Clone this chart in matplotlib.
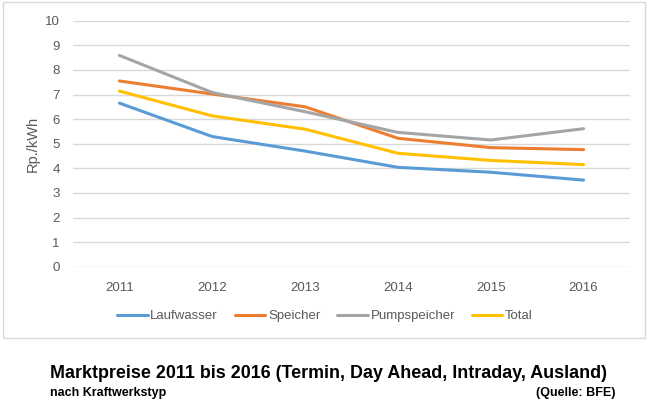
import matplotlib
matplotlib.use("Agg")
import matplotlib.pyplot as plt
from matplotlib.patches import Rectangle

# data
years = ["2011", "2012", "2013", "2014", "2015", "2016"]
laufwasser = [6.65, 5.29, 4.70, 4.04, 3.84, 3.52]
speicher = [7.55, 7.02, 6.50, 5.22, 4.84, 4.76]
pumpspeicher = [8.59, 7.08, 6.30, 5.46, 5.15, 5.61]
total = [7.14, 6.13, 5.59, 4.61, 4.32, 4.15]

series_names = ["Laufwasser", "Speicher", "Pumpspeicher", "Total"]
colors = ["#5B9BD5", "#ED7D31", "#A5A5A5", "#FFC000"]

plt.rcParams["font.family"] = ["Liberation Sans", "DejaVu Sans"]
txt_gray = "#595959"
grid_gray = "#D9D9D9"

fig = plt.figure(figsize=(6.5, 4.2), dpi=100)

# chart frame like the excel chart area
fig.patches.append(Rectangle((3 / 650, 1 - 338 / 420), 642 / 650, 336 / 420,
                             transform=fig.transFigure, fill=False,
                             edgecolor=grid_gray, linewidth=1))

ax = fig.add_axes([73 / 650, 1 - 266.7 / 420, 557 / 650, 246 / 420])
x = range(len(years))
for name, vals, c in zip(series_names, [laufwasser, speicher, pumpspeicher, total], colors):
    ax.plot(x, vals, color=c, lw=2.2, label=name, solid_capstyle="round")

ax.set_xlim(-0.5, len(years) - 0.5)
ax.set_ylim(0, 10)
ax.set_yticks(range(0, 11))
ax.set_xticks(list(x))
ax.set_xticklabels(years)
ax.grid(axis="y", color=grid_gray, lw=1)
ax.set_axisbelow(True)
for s in ax.spines.values():
    s.set_visible(False)
ax.tick_params(length=0, labelsize=9.5, labelcolor=txt_gray)
ax.tick_params(axis="y", pad=9.5)
ax.tick_params(axis="x", pad=11)
ax.set_ylabel("Rp./kWh", color=txt_gray, fontsize=10.5, labelpad=4)

fig.legend(loc="center", bbox_to_anchor=(0.5, 1 - 316 / 420), ncol=4, frameon=False,
           fontsize=9.5, labelcolor=txt_gray, handlelength=2.3, handletextpad=0.2,
           columnspacing=1.3)

fig.text(50 / 650, 1 - 373 / 420, "Marktpreise 2011 bis 2016 (Termin, Day Ahead, Intraday, Ausland)",
         fontsize=12.9, fontweight="bold", ha="left", va="center")
fig.text(50 / 650, 1 - 393 / 420, "nach Kraftwerkstyp", fontsize=9, fontweight="bold",
         ha="left", va="center")
fig.text(615 / 650, 1 - 393 / 420, "(Quelle: BFE)", fontsize=9, fontweight="bold",
         ha="right", va="center")

fig.savefig("out.png", dpi=100)
